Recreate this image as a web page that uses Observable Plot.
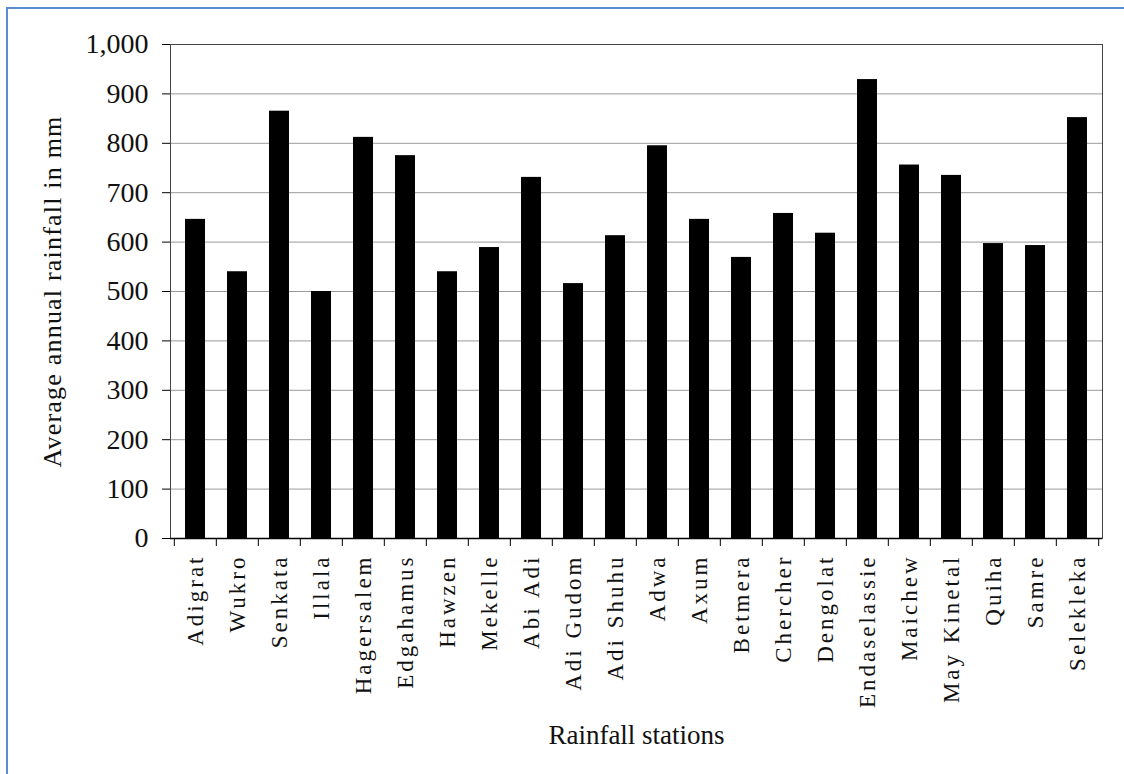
<!DOCTYPE html>
<html>
<head>
<meta charset="utf-8">
<script src="https://cdn.jsdelivr.net/npm/d3@7"></script>
<script src="https://cdn.jsdelivr.net/npm/@observablehq/plot@0.6"></script>
<style>
  html, body { margin: 0; padding: 0; background: #fff; }
  #wrap { position: relative; width: 1124px; height: 774px; overflow: hidden; background: #fff; }
  #border { position: absolute; left: 6px; top: 7px; right: -10px; bottom: -10px;
            border-left: 2px solid #5b8bd3; border-top: 2px solid #5b8bd3; pointer-events: none; }
  #chart svg, #chart svg text, #chart svg g { font-family: "Liberation Serif", "Times New Roman", serif !important; }
  g[aria-label="x-axis tick label"] text { letter-spacing: 3px; }
  g[aria-label="x-axis label"] { font-size: 27px; }
  g[aria-label="y-axis label"] { font-size: 26px; letter-spacing: 1.2px; }
</style>
</head>
<body>
<div id="wrap"><div id="chart"></div><div id="border"></div></div>
<script>
const stations = ["Adigrat", "Wukro", "Senkata", "Illala", "Hagersalem", "Edgahamus", "Hawzen",
  "Mekelle", "Abi Adi", "Adi Gudom", "Adi Shuhu", "Adwa", "Axum", "Betmera", "Chercher",
  "Dengolat", "Endaselassie", "Maichew", "May Kinetal", "Quiha", "Samre", "Selekleka"];
const rainfall = [646, 540, 865, 500, 812, 775, 540, 589, 731, 516, 613, 795, 646, 569, 658,
  618, 929, 756, 735, 597, 593, 852];
const yTicks = [0, 100, 200, 300, 400, 500, 600, 700, 800, 900, 1000];

const data = stations.map((s, i) => ({station: s, rainfall: rainfall[i]}));

const W = 1124, H = 774, mL = 170, mR = 22, mT = 44, mB = 236;
const step = (W - mL - mR) / stations.length;

const chart = Plot.plot({
  width: W,
  height: H,
  marginLeft: mL,
  marginRight: mR,
  marginTop: mT,
  marginBottom: mB,
  style: {color: "#111", background: "#fff", overflow: "visible"},
  x: {domain: stations, paddingInner: 0.53, paddingOuter: 0.265, label: null},
  y: {domain: [0, 1000], label: null},
  marks: [
    Plot.gridY(yTicks.filter(d => d > 0 && d < 1000), {stroke: "#9a9a9a", strokeOpacity: 1}),
    Plot.frame({stroke: "#444"}),
    Plot.barY(data, {x: "station", y: "rainfall", fill: "#000"}),
    Plot.ruleY([0], {stroke: "#000", strokeWidth: 1.5}),
    Plot.axisY({ticks: yTicks, tickFormat: d3.format(","), tickSize: 8, tickPadding: 14,
      fontSize: 28, stroke: "#000",
      label: "Average annual rainfall in mm", labelArrow: "none", labelAnchor: "center", labelOffset: 128}),
    Plot.axisX({tickSize: 8, tickFormat: () => "", dx: -step / 2, label: null, stroke: "#000"}),
    Plot.axisX({ticks: [stations[stations.length - 1]], tickSize: 8, tickFormat: () => "", dx: step / 2, label: null, stroke: "#000"}),
    Plot.axisX({tickSize: 0, tickRotate: -90, tickPadding: 16, fontSize: 23,
      label: "Rainfall stations", labelArrow: "none", labelAnchor: "center", labelOffset: 205})
  ]
});
document.getElementById("chart").appendChild(chart);
</script>
</body>
</html>
